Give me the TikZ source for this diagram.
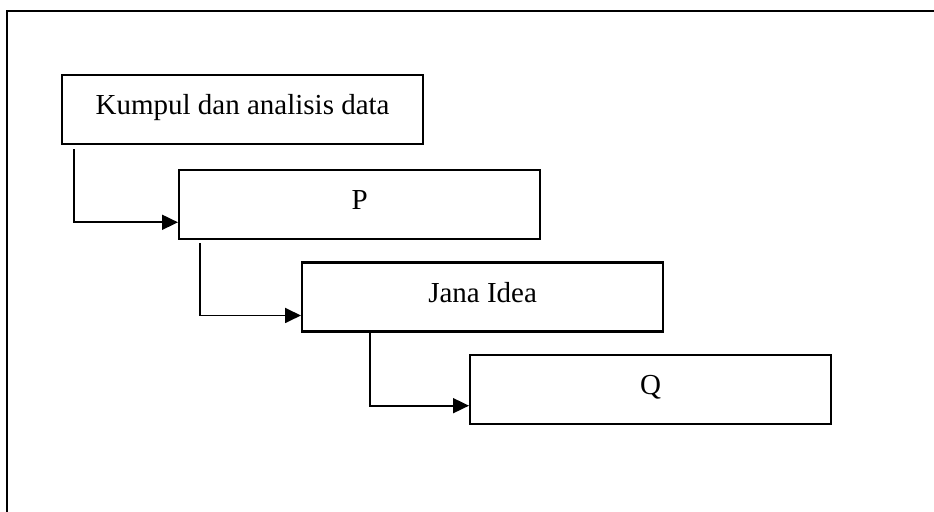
\documentclass[tikz,border=0pt]{standalone}
\usepackage{fontspec}
\setmainfont{Liberation Serif}
\usepackage{tikz}
\usetikzlibrary{positioning, arrows.meta}
\tikzstyle{box} = [draw, line width=1.1pt, minimum width=180.5pt, minimum height=34.5pt, text height=9.5pt, text depth=4.4pt, font=\fontsize{14.5pt}{17pt}\selectfont]
\tikzstyle{arrow} = [line width=0.9pt,-{Triangle[length=8pt,width=7.5pt]}]

\begin{document}
\begin{tikzpicture}
        \clip (0,0) rectangle (467pt,-256pt);
        % outer frame, cut at right and bottom
        \draw[line width=1.4pt] (3.5pt,-300pt) |- (500pt,-5.5pt);
        \node[box, anchor=north west] (kumpul) at (30.5pt,-37pt) {Kumpul dan analisis data};
        \node[box, below=12pt of kumpul.south west, anchor=north west, xshift=58.5pt] (p) {P};
        \node[box, below=10.5pt of p.south west, anchor=north west, xshift=61.5pt] (jana) {Jana Idea};
        \node[box, below=10.5pt of jana.south west, anchor=north west, xshift=84pt] (q) {Q};
        \draw[arrow] ([xshift=6.5pt,yshift=-2pt]kumpul.south west) |- ([yshift=-8.75pt]p.west);
        \draw[arrow] ([xshift=11pt,yshift=-1.5pt]p.south west) |- ([yshift=-9.25pt]jana.west);
        \draw[arrow] ([xshift=34.5pt]jana.south west) |- ([yshift=-8.25pt]q.west);
    \end{tikzpicture}
\end{document}
